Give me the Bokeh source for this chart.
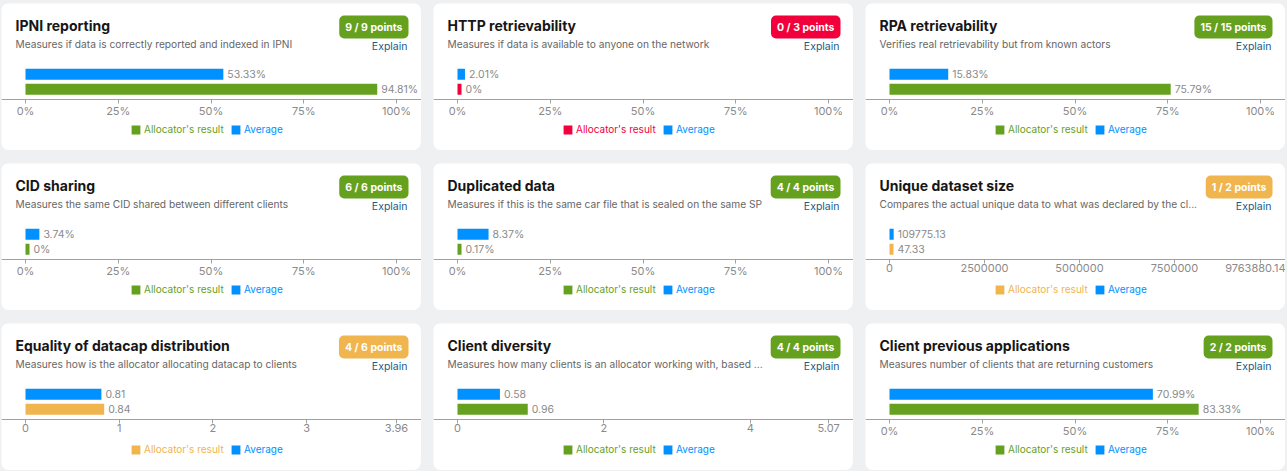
from bokeh.plotting import figure
from bokeh.models import (ColumnDataSource, Range1d, FixedTicker, LinearAxis,
                          Label, LabelSet, Legend, LegendItem, Spacer)
from bokeh.layouts import row, column
from bokeh.embed import file_html
from bokeh.resources import INLINE
from bokeh.core.properties import value

# ---------------- data ----------------
titles = ["IPNI reporting", "HTTP retrievability", "RPA retrievability",
          "CID sharing", "Duplicated data", "Unique dataset size",
          "Equality of datacap distribution", "Client diversity",
          "Client previous applications"]
descriptions = [
    "Measures if data is correctly reported and indexed in IPNI",
    "Measures if data is available to anyone on the network",
    "Verifies real retrievability but from known actors",
    "Measures the same CID shared between different clients",
    "Measures if this is the same car file that is sealed on the same SP",
    "Compares the actual unique data to what was declared by the cl...",
    "Measures how is the allocator allocating datacap to clients",
    "Measures how many clients is an allocator working with, based ...",
    "Measures number of clients that are returning customers",
]
points_earned = [9, 0, 15, 6, 4, 1, 4, 4, 2]
points_max = [9, 3, 15, 6, 4, 2, 6, 4, 2]
statuses = ["pass", "fail", "pass", "pass", "pass", "partial", "partial", "pass", "pass"]
series = ["Allocator's result", "Average"]
allocator_values = [94.81, 0, 75.79, 0, 0.17, 47.33, 0.84, 0.96, 83.33]
average_values = [53.33, 2.01, 15.83, 3.74, 8.37, 109775.13, 0.81, 0.58, 70.99]
units = ["%", "%", "%", "%", "%", "", "", "", "%"]
axis_max = [100, 100, 100, 100, 100, 9763880.14, 3.96, 5.07, 100]
pct_ticks = [0, 25, 50, 75, 100]
pct_labels = ["0%", "25%", "50%", "75%", "100%"]
tick_values = [pct_ticks] * 5 + [[0, 2500000, 5000000, 7500000, 9763880.14],
                                 [0, 1, 2, 3, 3.96], [0, 2, 4, 5.07], pct_ticks]
tick_labels = [pct_labels] * 5 + [["0", "2500000", "5000000", "7500000", "9763880.14"],
                                  ["0", "1", "2", "3", "3.96"], ["0", "2", "4", "5.07"],
                                  pct_labels]

# ---------------- style ----------------
FONT = "Inter"
status_colors = {"pass": "#65a11f", "fail": "#f2003c", "partial": "#f0b54f"}
AVG_COLOR = "#0090ff"
BG = "#eef0f2"
CARD_W, CARD_H = 420, 147
AXIS_LEFT = 24       # px from card's left edge to value 0
AXIS_LEN = 371       # px length of value axis
ROW_PX = 15          # px between the two bar centres
BOTTOM_BAR_Y = 85.7  # px from card top to centre of lower bar
AXIS_Y = 95.5        # px from card top to axis line
MIN_BAR_PX = 4


def fmt(v):
    return str(v)


def make_card(i):
    W, H = CARD_W, CARD_H
    col = status_colors[statuses[i]]
    u = axis_max[i] / AXIS_LEN
    x0 = -AXIS_LEFT * u
    hi = BOTTOM_BAR_Y / ROW_PX
    lo = hi - H / ROW_PX
    p = figure(width=W, height=H, output_backend="svg", toolbar_location=None,
               tools="", x_axis_location=None, y_axis_location=None,
               x_range=Range1d(x0, x0 + W * u), y_range=Range1d(lo, hi),
               min_border=0,
               styles={"border-radius": "8px", "overflow": "hidden"})
    p.outline_line_color = None
    p.xgrid.visible = False
    p.ygrid.visible = False
    p.background_fill_color = "white"
    p.border_fill_color = "white"

    minlen = MIN_BAR_PX * u
    vals = [allocator_values[i], average_values[i]]
    colors = [col, AVG_COLOR]
    renderers = []
    for k, (s, v, c) in enumerate(zip(series, vals, colors)):
        src = ColumnDataSource(dict(y=[k], right=[max(v, minlen)],
                                    label=[fmt(v) + units[i]]))
        r = p.hbar(y="y", left=0, right="right", height=11 / ROW_PX, source=src,
                   fill_color=c, line_color=None)
        renderers.append(r)
        p.add_layout(LabelSet(x="right", y="y", text="label", source=src,
                              x_offset=4, text_baseline="middle",
                              text_font=value(FONT), text_font_size="10.5px",
                              text_color="#8a8a8a"))

    ax = LinearAxis(fixed_location=hi - AXIS_Y / ROW_PX,
                    ticker=FixedTicker(ticks=tick_values[i]),
                    major_label_overrides=dict(zip(tick_values[i], tick_labels[i])))
    ax.axis_line_color = "#a0a0a0"
    ax.major_tick_line_color = "#a0a0a0"
    ax.minor_tick_line_color = None
    ax.major_tick_in = 0
    ax.major_tick_out = 4
    ax.major_label_standoff = 1
    ax.major_label_text_font = FONT
    ax.major_label_text_font_size = "11px"
    ax.major_label_text_color = "#8a8a8a"
    p.add_layout(ax, "below")

    # legends (one per series so each label carries its series colour)
    for k, (s, c, r) in enumerate(zip(series, colors, renderers)):
        leg = Legend(items=[LegendItem(label=s, renderers=[r])],
                     location=(129 + 100 * k, H - 132),
                     glyph_width=11, glyph_height=11, label_standoff=3,
                     label_height=11, label_width=10,
                     label_text_font=FONT, label_text_font_size="10px",
                     label_text_color=c, padding=0, margin=0, spacing=0,
                     border_line_color=None, background_fill_alpha=0)
        p.add_layout(leg, "center")

    # header texts (screen units, y measured upward from the bottom)
    p.add_layout(Label(x=14, y=H - 22.2, x_units="screen", y_units="screen",
                       text=titles[i], text_font=FONT, text_font_size="14px",
                       text_font_style="bold", text_color="#161616",
                       text_baseline="middle", text_align="left"))
    p.add_layout(Label(x=14, y=H - 40.6, x_units="screen", y_units="screen",
                       text=descriptions[i], text_font=FONT, text_font_size="10.2px",
                       text_color="#666666", text_baseline="middle",
                       text_align="left"))
    p.add_layout(Label(x=W - 13, y=H - 23.5, x_units="screen", y_units="screen",
                       text=f"{points_earned[i]} / {points_max[i]} points",
                       text_font=FONT, text_font_size="10.5px",
                       text_font_style="bold", text_color="white",
                       text_baseline="middle", text_align="right",
                       background_fill_color=col, border_radius=5,
                       padding=(6, 5)))
    p.add_layout(Label(x=W - 14, y=H - 42.6, x_units="screen", y_units="screen",
                       text="Explain", text_font=FONT, text_font_size="10.5px",
                       text_color="#1d5b8a", text_baseline="middle",
                       text_align="right"))
    return p


rows = [Spacer(height=3)]
for rr in range(3):
    figs = [Spacer(width=1)]
    for cc in range(3):
        figs.append(make_card(rr * 3 + cc))
        figs.append(Spacer(width=12 if cc < 2 else 2))
    rows.append(row(*figs, spacing=0))
    rows.append(Spacer(height=13 if rr < 2 else 1))

layout = column(*rows, spacing=0, styles={"background-color": BG})

open("out.html", "w").write(file_html(layout, INLINE))
